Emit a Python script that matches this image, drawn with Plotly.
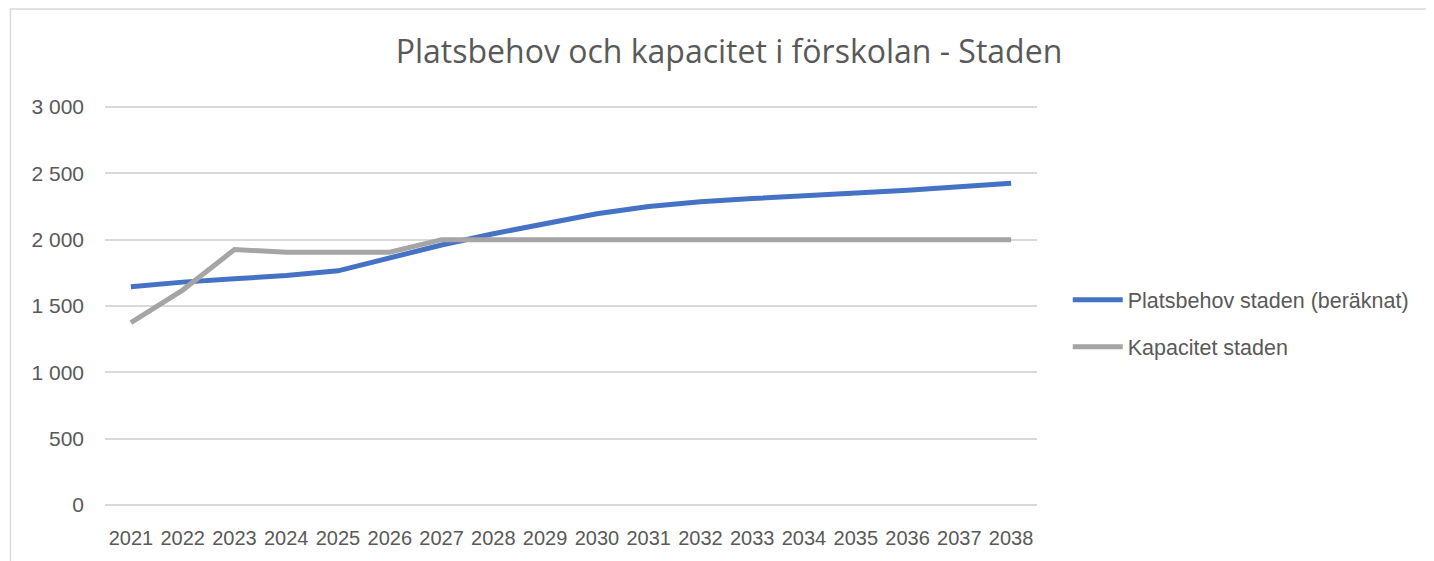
import plotly.graph_objects as go

years = [str(y) for y in range(2021, 2039)]
platsbehov = [1645, 1680, 1705, 1730, 1765, 1865, 1960, 2045, 2120, 2195, 2250, 2285, 2310, 2328, 2350, 2372, 2398, 2425]
kapacitet = [1375, 1620, 1925, 1905, 1905, 1905, 2000, 2000, 2000, 2000, 2000, 2000, 2000, 2000, 2000, 2000, 2000, 2000]
y_ticks = [0, 500, 1000, 1500, 2000, 2500, 3000]
y_labels = ["0", "500", "1 000", "1 500", "2 000", "2 500", "3 000"]

FONT = "Liberation Sans, sans-serif"
TXT = "#595959"

fig = go.Figure()
fig.add_trace(go.Scatter(x=years, y=platsbehov, mode="lines", name="Platsbehov staden (beräknat)",
                         legendgroup="a", line=dict(color="#4472C4", width=5)))
fig.add_trace(go.Scatter(x=years, y=kapacitet, mode="lines", name="Kapacitet staden",
                         legendgroup="b", line=dict(color="#A5A5A5", width=5)))

# plot area: y=3000 at page 107, y=0 at page 505 (page offset 8px)
fig.update_layout(
    width=1426, height=553,
    margin=dict(l=97, r=397, t=97, b=54),
    paper_bgcolor="white", plot_bgcolor="white",
    font=dict(family=FONT, size=20, color=TXT),
    title=dict(text="Platsbehov och kapacitet i förskolan - Staden", x=0.5056, xanchor="center",
               y=0.92, yanchor="middle", font=dict(family="Open Sans, sans-serif", size=32, color=TXT)),
    xaxis=dict(type="category", showgrid=False, showline=False, ticks="", range=[-0.5, 17.5],
               tickangle=0, ticklabelstandoff=17, tickfont=dict(size=20, color=TXT)),
    yaxis=dict(range=[-15, 3015], tickvals=y_ticks, ticktext=y_labels, gridcolor="#D9D9D9", gridwidth=1.5,
               zeroline=True, zerolinecolor="#D9D9D9", zerolinewidth=1.5, showline=False, ticks="",
               ticklabelstandoff=20, tickfont=dict(size=21, color=TXT)),
    legend=dict(x=1.033, y=0.457, xanchor="left", yanchor="middle", tracegroupgap=16,
                font=dict(size=21.5, color=TXT), itemwidth=50),
    showlegend=True,
)
fig.update_yaxes(automargin=False)
fig.update_xaxes(automargin=False)
fig.add_shape(type="line", xref="paper", yref="paper", x0=-0.1025, x1=1.5, y0=1.2388, y1=1.2388,
              line=dict(color="#D9D9D9", width=1.5))
fig.add_shape(type="line", xref="paper", yref="paper", x0=-0.1014, x1=-0.1014, y0=1.2388, y1=-0.2,
              line=dict(color="#D9D9D9", width=1.5))

fig.write_html("out.html")
